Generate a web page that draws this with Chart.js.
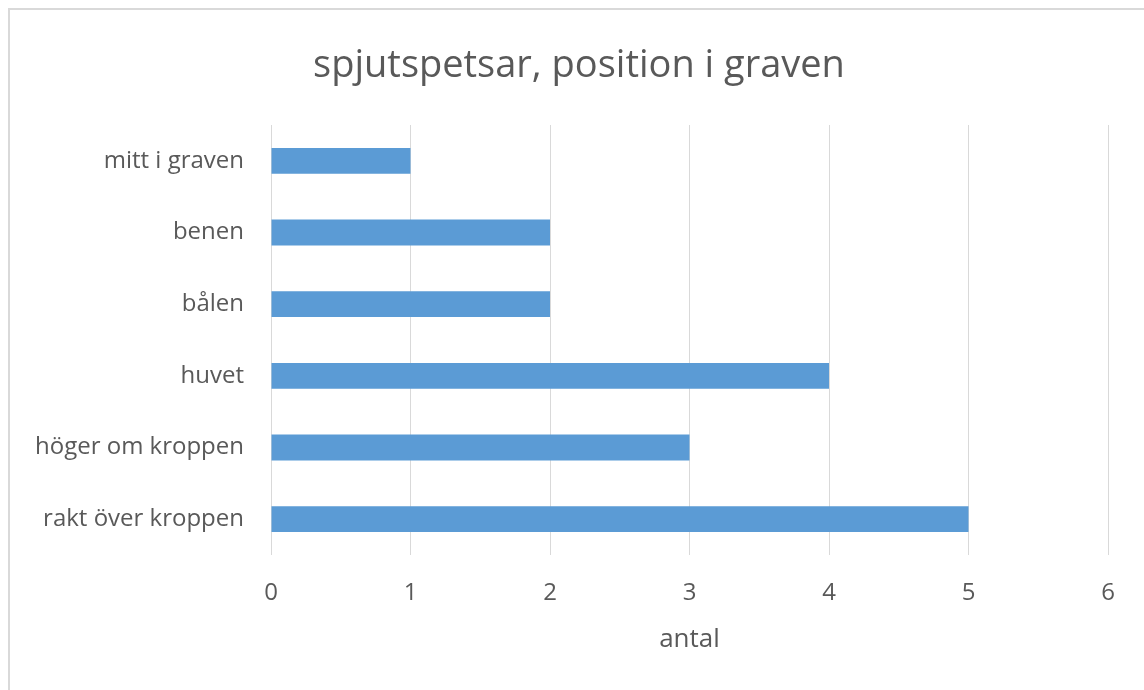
<!DOCTYPE html>
<html>
<head>
<meta charset="utf-8">
<script src="https://cdn.jsdelivr.net/npm/chart.js@4/dist/chart.umd.min.js"></script>
<style>
  body { margin: 0; background: #fff; overflow: hidden; }
  #wrap { position: relative; width: 1144px; height: 690px; }
  #frame { position: absolute; left: 8px; top: 8px; width: 1200px; height: 800px; border: 2px solid #d9d9d9; pointer-events: none; }
</style>
</head>
<body>
<div id="wrap">
  <canvas id="myChart" width="1144" height="690"></canvas>
  <div id="frame"></div>
</div>
<script>
const categories = ["mitt i graven", "benen", "bålen", "huvet", "höger om kroppen", "rakt över kroppen"];
const antal = [1, 2, 2, 4, 3, 5];
const xTicks = [0, 1, 2, 3, 4, 5, 6];
const chartTitle = "spjutspetsar, position i graven";

const textColor = "#595959";
const fontName = "'Open Sans', sans-serif";

// title is centred on the whole frame, not on the padded chart box
const frameTitle = {
  id: "frameTitle",
  afterDraw(chart) {
    const c = chart.ctx;
    c.save();
    c.font = "38px " + fontName;
    c.fillStyle = textColor;
    c.textAlign = "center";
    c.textBaseline = "middle";
    c.fillText(chartTitle, 579, 66);
    c.restore();
  },
};

const ctx = document.getElementById("myChart");

new Chart(ctx, {
  type: "bar",
  data: {
    labels: categories,
    datasets: [
      {
        label: "antal",
        data: antal,
        backgroundColor: "#5b9bd5",
        borderWidth: 0,
        categoryPercentage: 1,
        barPercentage: 0.36,
      },
    ],
  },
  options: {
    indexAxis: "y",
    responsive: false,
    animation: false,
    layout: { padding: { top: 125, right: 36, bottom: 0, left: 0 } },
    plugins: {
      legend: { display: false },
      tooltip: { enabled: false },
      title: { display: false },
    },
    scales: {
      x: {
        min: 0,
        max: 6,
        afterBuildTicks: (axis) => {
          axis.ticks = xTicks.map((v) => ({ value: v }));
        },
        afterFit: (axis) => {
          axis.height = 135;
        },
        grid: { color: "#d9d9d9", lineWidth: 1, drawTicks: false },
        border: { display: false },
        ticks: {
          color: textColor,
          font: { family: fontName, size: 24 },
          padding: 24,
        },
        title: {
          display: true,
          text: "antal",
          color: textColor,
          font: { family: fontName, size: 26 },
          padding: { top: 0, bottom: 35 },
        },
      },
      y: {
        afterFit: (axis) => {
          axis.width = 271;
        },
        grid: { display: false, drawTicks: false },
        border: { display: false },
        ticks: {
          color: textColor,
          font: { family: fontName, size: 24 },
          padding: 27,
        },
      },
    },
  },
  plugins: [frameTitle],
});
</script>
</body>
</html>
